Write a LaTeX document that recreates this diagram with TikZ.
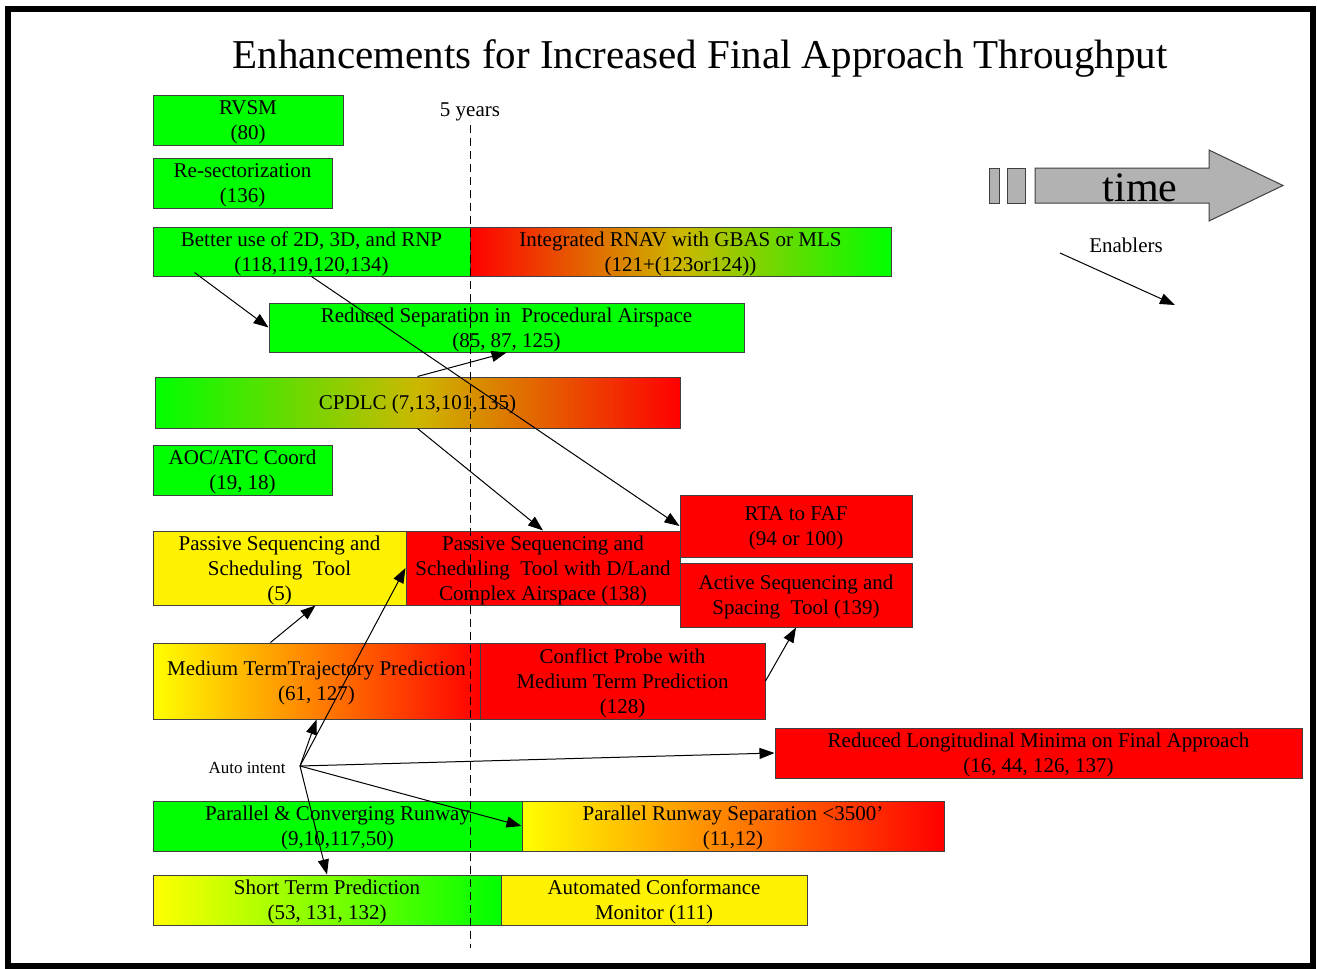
\documentclass[tikz,border=0pt]{standalone}
\usepackage{fontspec}
\setmainfont{Liberation Serif}
\usetikzlibrary{arrows.meta}
\definecolor{midolive}{rgb}{0.8,0.72,0}

\begin{document}
\begin{tikzpicture}[x=1pt, y=-1pt,
	box/.style={draw=black!75, line width=1pt, inner sep=0pt, align=center, font=\fontsize{21}{25}\selectfont, text depth=-1pt},
	arr/.style={line width=1pt, -{Triangle[length=15pt,width=11pt]}}]
	\useasboundingbox (0,0) rectangle (1317,969);
	\draw [line width=6pt] (8,8.5) rectangle (1313,966);
	\node [font=\fontsize{41}{48}\selectfont] (title) at (700,58) {Enhancements for Increased Final Approach Throughput};
	% boxes
	\node [box, fill=green, minimum width=190, minimum height=50] (rvsm) at (248,120) {RVSM\\(80)};
	\node [box, fill=green, minimum width=179, minimum height=50] (resect) at (242.5,183) {Re-sectorization\\(136)};
	\node [box, fill=green, minimum width=317, minimum height=49] (better) at (311.5,251.5) {Better use of 2D, 3D, and RNP\\(118,119,120,134)};
	\node [box, left color=red, right color=green, middle color=midolive, minimum width=421, minimum height=49] (rnav) at (680.5,251.5) {Integrated RNAV with GBAS or MLS\\(121+(123or124))};
	\node [box, fill=green, minimum width=475, minimum height=49] (redsep) at (506.5,327.5) {Reduced Separation in\ \ Procedural Airspace\\(85, 87, 125)};
	\node [box, left color=green, right color=red, middle color=midolive, minimum width=525, minimum height=51] (cpdlc) at (417.5,402.5) {CPDLC (7,13,101,135)};
	\node [box, fill=green, minimum width=179, minimum height=50] (aoc) at (242.5,470) {AOC/ATC Coord\\(19, 18)};
	\node [box, fill=yellow, minimum width=253, minimum height=74] (pass5) at (279.5,568) {Passive Sequencing and\\Scheduling\ \ Tool\\(5)};
	\node [box, fill=red, minimum width=274, minimum height=74] (passdl) at (543,568) {Passive Sequencing and\\Scheduling\ \ Tool with D/Land\\Complex Airspace (138)};
	\node [box, fill=red, minimum width=232, minimum height=62] (rta) at (796,526) {RTA to FAF\\(94 or 100)};
	\node [box, fill=red, minimum width=232, minimum height=64] (active) at (796,595) {Active Sequencing and\\Spacing\ \ Tool (139)};
	\node [box, left color=yellow, right color=red, minimum width=327, minimum height=76] (medium) at (316.5,681) {Medium TermTrajectory Prediction\\(61, 127)};
	\node [box, fill=red, minimum width=285, minimum height=76] (conflict) at (622.5,681) {Conflict Probe with\\Medium Term Prediction\\(128)};
	\node [box, fill=red, minimum width=527, minimum height=50] (redlong) at (1038.5,753) {Reduced Longitudinal Minima on Final Approach\\(16, 44, 126, 137)};
	\node [box, fill=green, minimum width=369, minimum height=50] (parconv) at (337.5,826) {Parallel \& Converging Runway\\(9,10,117,50)};
	\node [box, left color=yellow, right color=red, minimum width=422, minimum height=50] (parsep) at (733,826) {Parallel Runway Separation <3500'\\(11,12)};
	\node [box, left color=yellow, right color=green, minimum width=348, minimum height=50] (shortterm) at (327,900) {Short Term Prediction\\(53, 131, 132)};
	\node [box, fill=yellow, minimum width=306, minimum height=50] (autoconf) at (654,900) {Automated Conformance\\Monitor (111)};
	% 5 year line
	\node [font=\fontsize{21}{25}\selectfont] (years) at (470,112) {5 years};
	\draw [line width=1pt, dash pattern=on 8pt off 5pt] (years.south |- 0,125) -- (years.south |- 0,948);
	% time legend
	\draw [draw=black!75, fill=black!30, line width=1pt] (989,168) rectangle (999,203);
	\draw [draw=black!75, fill=black!30, line width=1pt] (1007,168) rectangle (1025,203);
	\draw [draw=black!75, fill=black!30, line width=1pt] (1035,168) -- (1209,168) -- (1209,150) -- (1283,185.5) -- (1209,221) -- (1209,203) -- (1035,203) -- cycle;
	\node [font=\fontsize{42}{48}\selectfont] (time) at (1140,188) {time};
	\node [font=\fontsize{21}{25}\selectfont] (enablers) at (1126,245) {Enablers};
	\coordinate (enA) at (1060,253);
	\coordinate (enB) at (1175,305);
	\draw [arr] (enA) -- (enB);
	% enablers
	\draw [arr] ([xshift=42pt,yshift=4pt]better.south west) -- (redsep.west);
	\draw [arr] (better.south) -- (rta.west);
	\draw [arr] (cpdlc.north) -- (redsep.south);
	\draw [arr] (cpdlc.south) -- (passdl.north);
	\draw [arr] ([xshift=-46pt]medium.north) -- ([xshift=36pt]pass5.south);
	\draw [arr] (conflict.east) -- (active.south);
	% auto intent
	\node [anchor=east, font=\fontsize{17}{20}\selectfont] (autotxt) at (289,768) {Auto intent};
	\coordinate (ai) at (300,766);
	\draw [arr] (ai) -- (passdl.west);
	\draw [arr] (ai) -- (medium.south);
	\draw [arr] (ai) -- (redlong.west);
	\draw [arr] (ai) -- (parsep.west);
	\draw [arr] (ai) -- (shortterm.north);
\end{tikzpicture}
\end{document}
